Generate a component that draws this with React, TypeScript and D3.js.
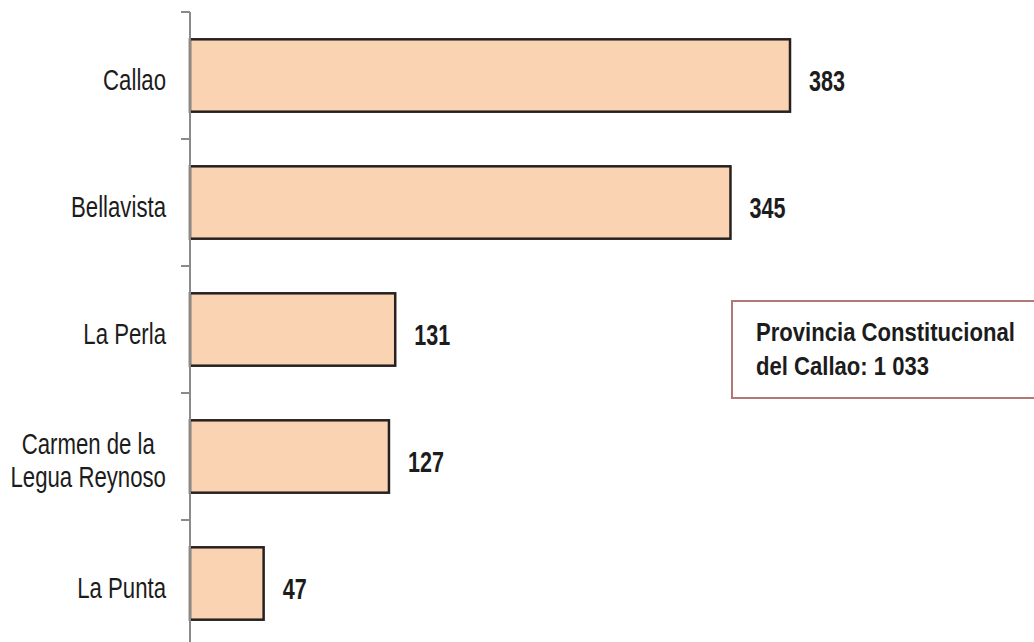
import React, { useEffect, useRef } from 'react';
import * as d3 from 'd3';

const categories = ['Callao', 'Bellavista', 'La Perla', 'Carmen de la\nLegua Reynoso', 'La Punta'];
const values = [383, 345, 131, 127, 47];
const noteLines = ['Provincia Constitucional', 'del Callao: 1 033'];

const W = 1034;
const H = 642;
const FONT = '"Liberation Sans", Arial, sans-serif';

export default function App() {
  const ref = useRef<SVGSVGElement>(null);

  useEffect(() => {
    const svg = d3.select(ref.current);
    svg.selectAll('*').remove();

    const x = d3.scaleLinear().domain([0, 383]).range([190, 790]);
    const slots = d3.scaleBand<string>().domain(categories).range([12, 647]);
    const y = d3
      .scaleBand<string>()
      .domain(categories)
      .range([12, 647])
      .paddingInner(0.43)
      .paddingOuter(0.215);

    const g = svg.append('g');

    // bars
    g.selectAll('rect.bar')
      .data(categories)
      .enter()
      .append('rect')
      .attr('class', 'bar')
      .attr('x', x(0))
      .attr('y', (d) => y(d)!)
      .attr('width', (d, i) => x(values[i]) - x(0))
      .attr('height', y.bandwidth())
      .attr('fill', '#fad4b2')
      .attr('stroke', '#262120')
      .attr('stroke-width', 2.5);

    // axis line and ticks at slot boundaries
    const axis = g.append('g').attr('stroke', '#8a8a8a').attr('stroke-width', 2);
    axis.append('line').attr('x1', x(0)).attr('x2', x(0)).attr('y1', 12).attr('y2', H + 10);
    const tickYs = categories.map((c) => slots(c)!).concat([slots.range()[1]]);
    axis
      .selectAll('line.tick')
      .data(tickYs)
      .enter()
      .append('line')
      .attr('class', 'tick')
      .attr('x1', x(0) - 9)
      .attr('x2', x(0))
      .attr('y1', (d) => d)
      .attr('y2', (d) => d);

    // category labels
    const sx = 0.74;
    categories.forEach((c) => {
      const lines = c.split('\n');
      const cy = y(c)! + y.bandwidth() / 2;
      const lab = g
        .append('text')
        .attr('font-family', FONT)
        .attr('font-size', 30)
        .attr('fill', '#1c1c1c')
        .attr('text-anchor', lines.length > 1 ? 'middle' : 'end');
      lines.forEach((ln, k) => {
        lab
          .append('tspan')
          .attr('x', 0)
          .attr('y', 14 + (k - (lines.length - 1) / 2) * 33)
          .text(ln);
      });
      let ax = 166;
      if (lines.length > 1) {
        const widths = (lab.selectAll('tspan').nodes() as SVGTSpanElement[]).map((n) =>
          n.getComputedTextLength()
        );
        ax = 166 - (d3.max(widths)! * sx) / 2;
      }
      lab.attr('transform', `translate(${ax},${cy}) scale(${sx},1)`);
    });

    // value labels
    categories.forEach((c, i) => {
      const cy = y(c)! + y.bandwidth() / 2;
      g.append('text')
        .attr('font-family', FONT)
        .attr('font-size', 30)
        .attr('font-weight', 'bold')
        .attr('fill', '#1c1c1c')
        .attr('transform', `translate(${x(values[i]) + 19},${cy + 15}) scale(0.72,1)`)
        .text(values[i]);
    });

    // note box
    const note = g.append('g');
    note
      .append('rect')
      .attr('x', 732)
      .attr('y', 301)
      .attr('width', 330)
      .attr('height', 97)
      .attr('fill', '#fff')
      .attr('stroke', '#b27878')
      .attr('stroke-width', 2);
    noteLines.forEach((t, k) => {
      note
        .append('text')
        .attr('font-family', FONT)
        .attr('font-size', 26)
        .attr('font-weight', 'bold')
        .attr('fill', '#1c1c1c')
        .attr('transform', `translate(756,${341 + k * 34}) scale(0.85,1)`)
        .text(t);
    });
  }, []);

  return (
    <svg
      ref={ref}
      width={W}
      height={H}
      style={{ position: 'absolute', left: 0, top: 0, background: '#fff' }}
    />
  );
}
